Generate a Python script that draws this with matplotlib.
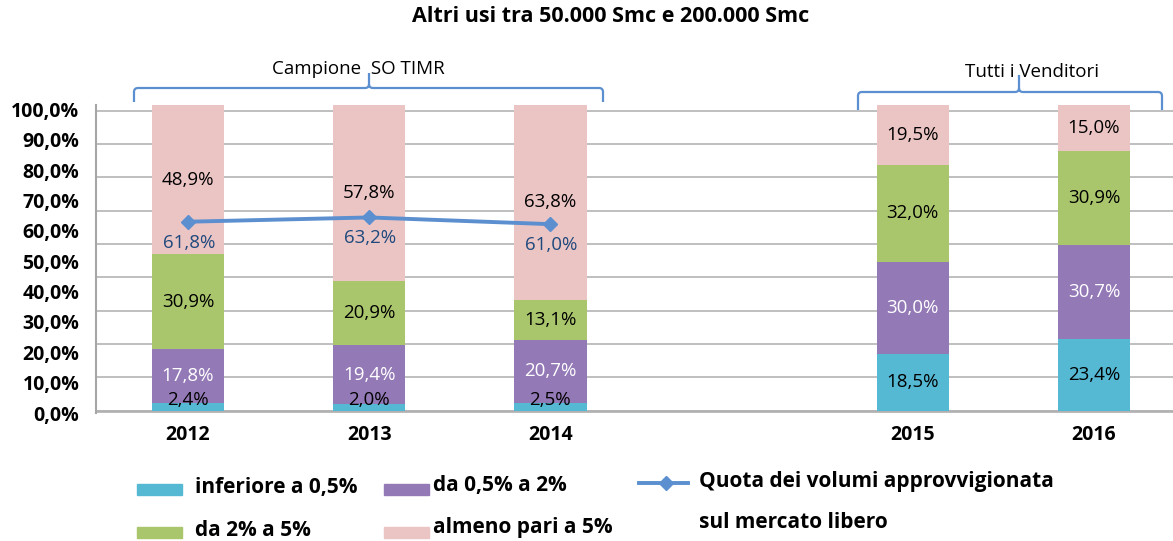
import numpy as np
import matplotlib
matplotlib.use("Agg")
import matplotlib.pyplot as plt
from matplotlib.patches import Rectangle, PathPatch
from matplotlib.path import Path
from matplotlib.lines import Line2D

plt.rcParams['font.family'] = ['Open Sans', 'DejaVu Sans']

# --- data ---
years = ['2012', '2013', '2014', '2015', '2016']
x_pos = [0, 1, 2, 4, 5]  # empty slot between the two groups
series_names = ['inferiore a 0,5%', 'da 0,5% a 2%', 'da 2% a 5%', 'almeno pari a 5%']
below_05 = [2.4, 2.0, 2.5, 18.5, 23.4]
from_05_to_2 = [17.8, 19.4, 20.7, 30.0, 30.7]
from_2_to_5 = [30.9, 20.9, 13.1, 32.0, 30.9]
at_least_5 = [48.9, 57.8, 63.8, 19.5, 15.0]
quota_x = [0, 1, 2]
quota_libero = [61.8, 63.2, 61.0]
y_ticks = np.arange(0, 101, 10)

colors = ['#55B9D3', '#9479B7', '#AAC66D', '#EBC4C4']
label_colors = ['black', 'white', 'black', 'black']
line_color = '#5B8FCF'
line_label_color = '#1F497D'

W, H = 1173, 541


def fx(x):
    return x / W


def fy(y):
    return 1 - y / H


def pct(v):
    return f"{v:.1f}%".replace('.', ',')


fig = plt.figure(figsize=(W / 100, H / 100), dpi=100)
ax = fig.add_axes([fx(96), fy(413), (W - 96) / W, 308 / H])

# --- stacked bars ---
bottom = np.zeros(len(years))
for vals, c, lc in zip([below_05, from_05_to_2, from_2_to_5, at_least_5], colors, label_colors):
    bars = ax.bar(x_pos, vals, width=0.4, bottom=bottom, color=c, zorder=2, clip_on=False)
    for b, v, b0 in zip(bars, vals, bottom):
        yc = max(b0 + v / 2, 3.3)
        ax.text(b.get_x() + b.get_width() / 2, yc, pct(v), ha='center', va='center',
                color=lc, fontsize=13.5, zorder=3)
    bottom = bottom + np.array(vals)

# --- line ---
ax.plot(quota_x, quota_libero, color=line_color, lw=2.8, marker='D', ms=7, zorder=4)
for x, v in zip(quota_x, quota_libero):
    ax.annotate(pct(v), (x, v), xytext=(1, -21), textcoords='offset pixels',
                ha='center', va='center', color=line_label_color, fontsize=13.5, zorder=5)

# --- axes ---
ax.set_xlim(-0.508, 5.436)
ax.set_ylim(0, 100)
# value labels in the source sit a little off the 0-100 scale
ax.set_yticks(y_ticks * 0.994 - 0.8, [pct(t) for t in y_ticks], fontweight='bold', fontsize=14)
# and the gridlines don't line up with the labels (9 intervals)
ax.set_yticks(np.linspace(0, 98.15, 10), minor=True)
ax.grid(which='minor', axis='y', color='#B4B4B4', lw=1.2, zorder=0)
ax.tick_params(axis='y', which='both', length=0, pad=12)
ax.set_xticks(x_pos, years, fontweight='bold', fontsize=14)
ax.tick_params(axis='x', length=0, pad=9)
for s in ['top', 'right', 'bottom']:
    ax.spines[s].set_visible(False)
ax.spines['left'].set_color('#A6A6A6')
ax.spines['left'].set_linewidth(1.5)
ax.axhline(0, color='#A6A6A6', lw=1.8, zorder=1)

# --- title ---
fig.text(fx(611), fy(17), 'Altri usi tra 50.000 Smc e 200.000 Smc', ha='center', va='center',
         fontweight='bold', fontsize=15.5)


# --- braces ---
def brace(x0, x1, xm, yt, yb, yp, r=4):
    pts = [(x0, yt), (x0, yb + r), (x0, yb), (x0 + r, yb), (xm - r, yb), (xm, yb), (xm, yb - r), (xm, yp),
           (xm, yb - r), (xm, yb), (xm + r, yb), (x1 - r, yb), (x1, yb), (x1, yb + r), (x1, yt)]
    codes = [Path.MOVETO, Path.LINETO, Path.CURVE3, Path.CURVE3, Path.LINETO, Path.CURVE3, Path.CURVE3,
             Path.LINETO, Path.MOVETO, Path.CURVE3, Path.CURVE3, Path.LINETO, Path.CURVE3, Path.CURVE3,
             Path.LINETO]
    path = Path([(fx(a), fy(b)) for a, b in pts], codes)
    fig.add_artist(PathPatch(path, fill=False, edgecolor=line_color, lw=1.6, transform=fig.transFigure))


brace(134, 603, 369, 102, 88, 73)
brace(858, 1162, 1019, 110, 92, 75)
fig.text(fx(358), fy(69), 'Campione  SO TIMR', ha='center', va='center', fontsize=13.5)
fig.text(fx(1032), fy(72), 'Tutti i Venditori', ha='center', va='center', fontsize=13.5)

# --- legend ---
legend_items = [(137, 484, 195, 487), (384, 484, 433, 486), (137, 527, 195, 531), (384, 527, 433, 527)]
for (px0, py0, tx, ty), name, c in zip(legend_items, series_names, colors):
    fig.add_artist(Rectangle((fx(px0), fy(py0 + 11)), 45 / W, 11 / H, color=c,
                             transform=fig.transFigure))
    fig.text(fx(tx), fy(ty), name, va='center', fontweight='bold', fontsize=15)

fig.add_artist(Line2D([fx(639), fx(688)], [fy(483), fy(483)], color=line_color, lw=2.8,
                      transform=fig.transFigure))
fig.add_artist(Line2D([fx(666)], [fy(483)], color=line_color, marker='D', ms=7,
                      transform=fig.transFigure))
fig.text(fx(699), fy(482), 'Quota dei volumi approvvigionata', va='center', fontweight='bold', fontsize=15)
fig.text(fx(699), fy(523), 'sul mercato libero', va='center', fontweight='bold', fontsize=15)

fig.savefig('out.png', dpi=100)
